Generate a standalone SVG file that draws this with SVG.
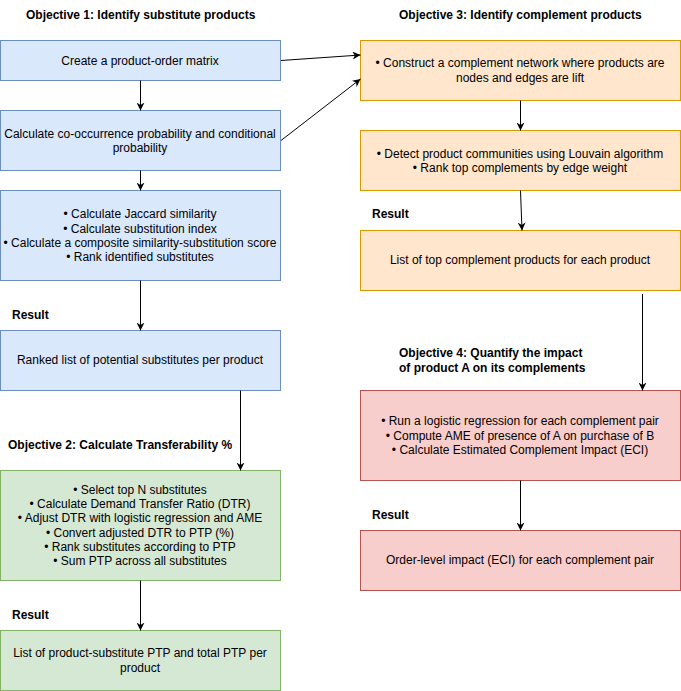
<svg xmlns="http://www.w3.org/2000/svg" width="681" height="691" viewBox="0 0 681 691">
<style>
text{font-family:"Liberation Sans",Arial,sans-serif;font-size:12px;fill:#000;}
.c{text-anchor:middle;}
.b{font-weight:bold;}
.blue{fill:#dae8fc;stroke:#6c8ebf;stroke-width:1;}
.green{fill:#d5e8d4;stroke:#82b366;stroke-width:1;}
.orange{fill:#ffe6cc;stroke:#d79b00;stroke-width:1;}
.red{fill:#f8cecc;stroke:#b85450;stroke-width:1;}
.e{fill:none;stroke:#000;stroke-width:1;marker-end:url(#arr);}
</style>
<defs>
<marker id="arr" viewBox="0 0 10 10" refX="10" refY="5" markerWidth="8" markerHeight="8" markerUnits="userSpaceOnUse" orient="auto">
<path d="M0,0 L10,5 L0,10 L3,5 Z" fill="#000"/>
</marker>
</defs>
<rect width="681" height="691" fill="#fff"/>
<g id="labels">
<text class="b" x="26" y="19">Objective 1: Identify substitute products</text>
<text class="b" x="399" y="19">Objective 3: Identify complement products</text>
<text class="b" x="12" y="319">Result</text>
<text class="b" x="8" y="449">Objective 2: Calculate Transferability %</text>
<text class="b" x="12" y="619">Result</text>
<text class="b" x="372" y="218">Result</text>
<text class="b" x="399" y="357">Objective 4: Quantify the impact</text>
<text class="b" x="399" y="372">of product A on its complements</text>
<text class="b" x="372" y="519">Result</text>
</g>
<g id="n1"><rect class="blue" x="0.5" y="40.5" width="280" height="40"/>
<text class="c" x="140" y="64.5">Create a product-order matrix</text></g>
<g id="n2"><rect class="blue" x="0.5" y="110.5" width="280" height="60"/>
<text class="c" x="140" y="137.5">Calculate co-occurrence probability and conditional</text>
<text class="c" x="140" y="152">probability</text></g>
<g id="n3"><rect class="blue" x="0.5" y="190.5" width="280" height="90"/>
<text class="c" x="140" y="218">• Calculate Jaccard similarity</text>
<text class="c" x="140" y="232.5">• Calculate substitution index</text>
<text class="c" x="140" y="247">• Calculate a composite similarity-substitution score</text>
<text class="c" x="140" y="261">• Rank identified substitutes</text></g>
<g id="n4"><rect class="blue" x="0.5" y="330.5" width="280" height="60"/>
<text class="c" x="140" y="364">Ranked list of potential substitutes per product</text></g>
<g id="n5"><rect class="green" x="0.5" y="470.5" width="280" height="110"/>
<text class="c" x="140" y="493.5">• Select top N substitutes</text>
<text class="c" x="140" y="508">• Calculate Demand Transfer Ratio (DTR)</text>
<text class="c" x="140" y="522">• Adjust DTR with logistic regression and AME</text>
<text class="c" x="140" y="536.5">• Convert adjusted DTR to PTP (%)</text>
<text class="c" x="140" y="551">• Rank substitutes according to PTP</text>
<text class="c" x="140" y="565">• Sum PTP across all substitutes</text></g>
<g id="n6"><rect class="green" x="0.5" y="630.5" width="280" height="60"/>
<text class="c" x="140" y="657">List of product-substitute PTP and total PTP per</text>
<text class="c" x="140" y="672">product</text></g>
<g id="r1"><rect class="orange" x="360.5" y="40.5" width="320" height="60"/>
<text class="c" x="520" y="67">• Construct a complement network where products are</text>
<text class="c" x="520" y="82">nodes and edges are lift</text></g>
<g id="r2"><rect class="orange" x="360.5" y="130.5" width="320" height="60"/>
<text class="c" x="520" y="157.5">• Detect product communities using Louvain algorithm</text>
<text class="c" x="520" y="172">• Rank top complements by edge weight</text></g>
<g id="r3"><rect class="orange" x="360.5" y="230.5" width="320" height="60"/>
<text class="c" x="520" y="263.5">List of top complement products for each product</text></g>
<g id="r4"><rect class="red" x="360.5" y="390.5" width="320" height="90"/>
<text class="c" x="520" y="425">• Run a logistic regression for each complement pair</text>
<text class="c" x="520" y="439.5">• Compute AME of presence of A on purchase of B</text>
<text class="c" x="520" y="454">• Calculate Estimated Complement Impact (ECI)</text></g>
<g id="r5"><rect class="red" x="360.5" y="530.5" width="320" height="60"/>
<text class="c" x="520" y="563.5">Order-level impact (ECI) for each complement pair</text></g>
<g id="connectors">
<path class="e" d="M140.5,80.5 L140.5,110.5"/>
<path class="e" d="M140.5,170.5 L140.5,190.5"/>
<path class="e" d="M140.5,280.5 L140.5,330.5"/>
<path class="e" d="M240.5,390.5 L240.5,470.5"/>
<path class="e" d="M140.5,580.5 L140.5,630.5"/>
<path class="e" d="M281,60.5 L360.5,55"/>
<path class="e" d="M281,140.5 L360.5,79"/>
<path class="e" d="M520.5,100.5 L520.5,130.5"/>
<path class="e" d="M520.5,190.5 L522,230.5"/>
<path class="e" d="M642.5,294 L642.5,390.5"/>
<path class="e" d="M520.5,480.5 L520.5,530.5"/>
</g>
</svg>
